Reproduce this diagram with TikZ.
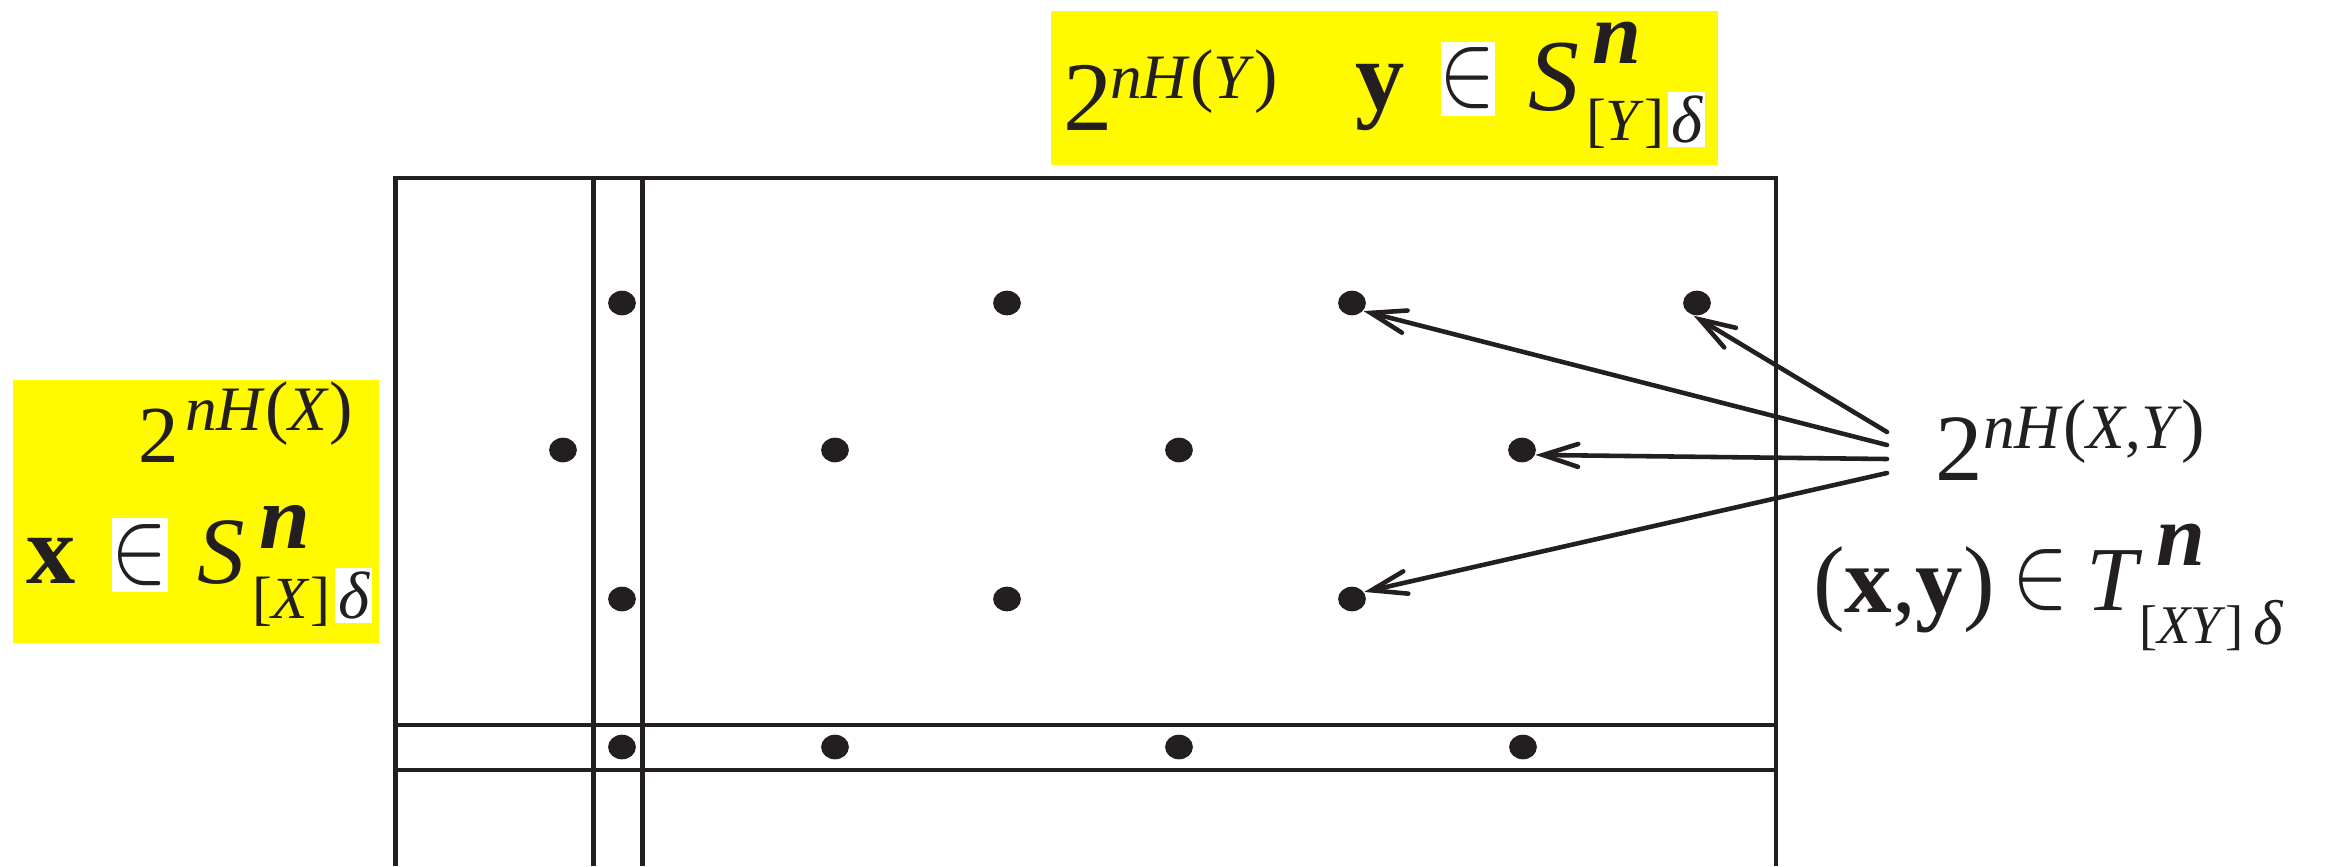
\RequirePackage{fix-cm}
\documentclass[tikz,border=0pt]{standalone}
\usepackage{fontspec}
\setmainfont{Liberation Serif}
\usetikzlibrary{arrows.meta,shapes.geometric}
\definecolor{ink}{HTML}{231F20}
\definecolor{hl}{RGB}{255,250,0}
\newcommand\fsz[1]{\fontsize{#1}{#1}\selectfont}
\newcommand\elem[1]{\fsz{#1}\scalebox{0.8}[1]{$\in$}}
\newcommand\lp{{\fsz{20}(}}
\newcommand\rp{{\fsz{20})}}
\begin{document}
\begin{tikzpicture}[x=0.01cm,y=-0.01cm,
  txt/.style={anchor=base west,inner sep=0pt,outer sep=0pt,text=ink},
  sym/.style={inner sep=0pt,outer sep=0pt,text=ink},
  dot/.style={ellipse,fill=ink,inner sep=0pt,minimum width=7.9pt,minimum height=7pt},
  grid/.style={draw=ink,line width=1.2pt},
  arr/.style={draw=ink,line width=1.3pt,line cap=round,
    -{Straight Barb[length=10pt,width=6.5pt,line cap=round]}},
  hlbox/.style={fill=hl,draw=none,inner sep=0pt,outer sep=0pt},
  wbox/.style={fill=white,draw=none,inner sep=0pt,outer sep=0pt}]
\useasboundingbox (0,0) rectangle (2329,866);

% highlight boxes
\node[hlbox,minimum width=6.67cm,minimum height=1.54cm] (ybox) at (1384.5,88) {};
\node[hlbox,minimum width=3.66cm,minimum height=2.63cm] (xbox) at (196,511.5) {};

% grid
\draw[grid] (395.5,866) -- (395.5,178) -- (1776,178) -- (1776,866);
\draw[grid] (593.5,178) -- (593.5,866);
\draw[grid] (642.5,178) -- (642.5,866);
\draw[grid] (395.5,725) -- (1776,725);
\draw[grid] (395.5,770) -- (1776,770);

% dots
\node[dot] (d11) at (622,303) {};
\node[dot] (d12) at (1007,303) {};
\node[dot] (d13) at (1352,303) {};
\node[dot] (d14) at (1697,303) {};
\node[dot] (d21) at (563,450) {};
\node[dot] (d22) at (835,450) {};
\node[dot] (d23) at (1179,450) {};
\node[dot] (d24) at (1522,450) {};
\node[dot] (d31) at (622,599) {};
\node[dot] (d32) at (1007,599) {};
\node[dot] (d33) at (1352,599) {};
\node[dot] (d41) at (622,747) {};
\node[dot] (d42) at (835,747) {};
\node[dot] (d43) at (1179,747) {};
\node[dot] (d44) at (1523,747) {};

% arrows
\coordinate (s1) at (1887,432);
\coordinate (s2) at (1887,445);
\coordinate (s3) at (1887,459);
\coordinate (s4) at (1887,473);
\draw[arr] (s1) -- (d14.-105);
\draw[arr] (s2) -- (d13.-35);
\draw[arr] (s3) -- (d24.-20);
\draw[arr] (s4) -- (d33.30);

% top label
\node[txt] (t2) at (1063,130) {\fsz{28}2};
\node[txt] (tsup) at (1110,98) {\fsz{18}\textit{nH}\lp\textit{Y}\rp};
\node[txt] (ty) at (1355,109) {\fsz{28}\textbf{y}};
\node[wbox,minimum width=0.54cm,minimum height=0.74cm] (tinbg) at (1468,79) {};
\node[sym] (tin) at (1468,78.5) {\elem{30}};
\node[txt] (tS) at (1528,110) {\fsz{29}\textit{S}};
\node[txt] (tn) at (1592,63) {\fsz{25}\textbf{\textit{n}}};
\node[txt] (tsub) at (1586,140) {\fsz{17}[\textit{Y}]};
\node[wbox,minimum width=0.37cm,minimum height=0.55cm] (tdbg) at (1686.5,119.5) {};
\node[txt] (td) at (1671,142) {\fsz{19}\textit{δ}};

% left label
\node[txt] (l2) at (138,462) {\fsz{23}2};
\node[txt] (lsup) at (185,430) {\fsz{18}\textit{nH}\lp\textit{X}\rp};
\node[txt] (lx) at (27,583) {\fsz{28}\textbf{x}};
\node[wbox,minimum width=0.56cm,minimum height=0.74cm] (linbg) at (140,555) {};
\node[sym] (lin) at (140,555) {\elem{30}};
\node[txt] (lS) at (197,583) {\fsz{27}\textit{S}};
\node[txt] (ln) at (259,548) {\fsz{26}\textbf{\textit{n}}};
\node[txt] (lsub) at (252,618) {\fsz{17}[\textit{X}]};
\node[wbox,minimum width=0.37cm,minimum height=0.55cm] (ldbg) at (353.5,595.5) {};
\node[txt] (ld) at (338,618) {\fsz{19}\textit{δ}};

% right label
\node[txt] (r2) at (1935,480) {\fsz{27}2};
\node[txt] (rsup) at (1983,448) {\fsz{18}\textit{nH}\lp\textit{X},\textit{Y}\rp};
\node[txt] (rxy) at (1813,612) {\fsz{27}(\textbf{x},\textbf{y})};
\node[sym] (rin) at (2041,580) {\elem{30}};
\node[txt] (rT) at (2086,610) {\fsz{26}\textit{T}};
\node[txt] (rn) at (2156,565) {\fsz{25}\textbf{\textit{n}}};
\node[txt] (rsub) at (2139,643) {\fsz{15.5}[\textit{XY}]};
\node[txt] (rd) at (2253,644) {\fsz{18}\textit{δ}};
\end{tikzpicture}
\end{document}
